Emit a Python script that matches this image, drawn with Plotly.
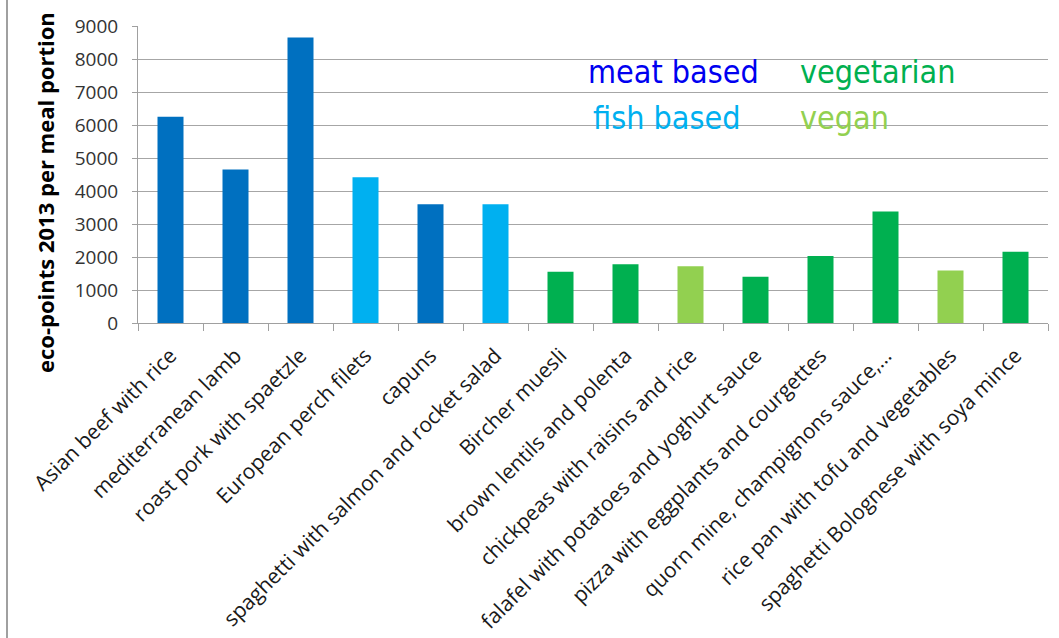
import plotly.graph_objects as go

categories = [
    "Asian beef with rice", "mediterranean lamb", "roast pork with spaetzle",
    "European perch filets", "capuns", "spaghetti with salmon and rocket salad",
    "Bircher muesli", "brown lentils and polenta", "chickpeas with raisins and rice",
    "falafel with potatoes and yoghurt sauce", "pizza with eggplants and courgettes",
    "quorn mine, champignons sauce,…", "rice pan with tofu and vegetables",
    "spaghetti Bolognese with soya mince",
]
values = [6250, 4650, 8650, 4420, 3600, 3600, 1550, 1780, 1720, 1400, 2030, 3380, 1590, 2160]
groups = ["meat", "meat", "meat", "fish", "meat", "fish", "vegetarian", "vegetarian",
          "vegan", "vegetarian", "vegetarian", "vegetarian", "vegan", "vegetarian"]
y_ticks = [0, 1000, 2000, 3000, 4000, 5000, 6000, 7000, 8000, 9000]

bar_colors = {"meat": "#0070C0", "fish": "#00B0F0", "vegetarian": "#00B050", "vegan": "#92D050"}
legend_items = [("meat based", "#0000F0", "meat"), ("fish based", "#00B0F0", "fish"),
                ("vegetarian", "#00B050", "vegetarian"), ("vegan", "#92D050", "vegan")]

W, H = 1059, 638
ml, mr, mt, mb = 138, 11, 26, 315
pw, ph = W - ml - mr, H - mt - mb

def px_x(x):
    return (x - ml) / pw

def px_y(y):
    return (H - mb - y) / ph

fig = go.Figure()
fig.add_trace(go.Bar(
    x=categories, y=values,
    marker=dict(color=[bar_colors[g] for g in groups], line=dict(width=0)),
    hoverinfo="x+y",
))

label_font = "Open Sans, Lato, sans-serif"
fig.update_layout(
    width=W, height=H,
    margin=dict(l=ml, r=mr, t=mt, b=mb, autoexpand=False),
    paper_bgcolor="white", plot_bgcolor="white",
    bargap=0.6, showlegend=False,
    xaxis=dict(
        type="category", tickangle=-45, automargin=False,
        tickfont=dict(family=label_font, size=21, color="#1a1a1a"),
        ticks="outside", ticklen=7, tickcolor="#A0A0A0", tickson="boundaries",
        ticklabelstandoff=11,
        showline=True, linecolor="#A0A0A0", linewidth=1, showgrid=False,
    ),
    yaxis=dict(
        range=[0, 9000], tickvals=y_ticks, automargin=False,
        tickfont=dict(family=label_font, size=19, color="#333333"),
        ticks="outside", ticklen=5, tickcolor="#A0A0A0",
        ticklabelstandoff=10,
        showline=True, linecolor="#A0A0A0", linewidth=1,
        showgrid=True, gridcolor="#A6A6A6", gridwidth=1, zeroline=False,
    ),
)

# y-axis title
fig.add_annotation(
    text="<b>eco-points 2013 per meal portion</b>", textangle=-90,
    xref="paper", yref="paper", x=px_x(45), y=px_y(193),
    showarrow=False, xanchor="center", yanchor="middle",
    font=dict(family=label_font, size=22, color="black"),
)

# colour key texts
key_pos = {"meat": (586, 72), "fish": (591, 118), "vegetarian": (798, 72), "vegan": (798, 118)}
for text, col, key in legend_items:
    x, y = key_pos[key]
    fig.add_annotation(
        text=text, xref="paper", yref="paper", x=px_x(x), y=px_y(y),
        showarrow=False, xanchor="left", yanchor="middle",
        font=dict(family="DejaVu Sans Condensed, DejaVu Sans, sans-serif", size=32, color=col),
    )

# left frame line
fig.add_shape(type="line", xref="paper", yref="paper",
              x0=px_x(7), x1=px_x(7), y0=px_y(H), y1=px_y(0),
              line=dict(color="#A0A0A0", width=2))

fig.write_html("out.html")
